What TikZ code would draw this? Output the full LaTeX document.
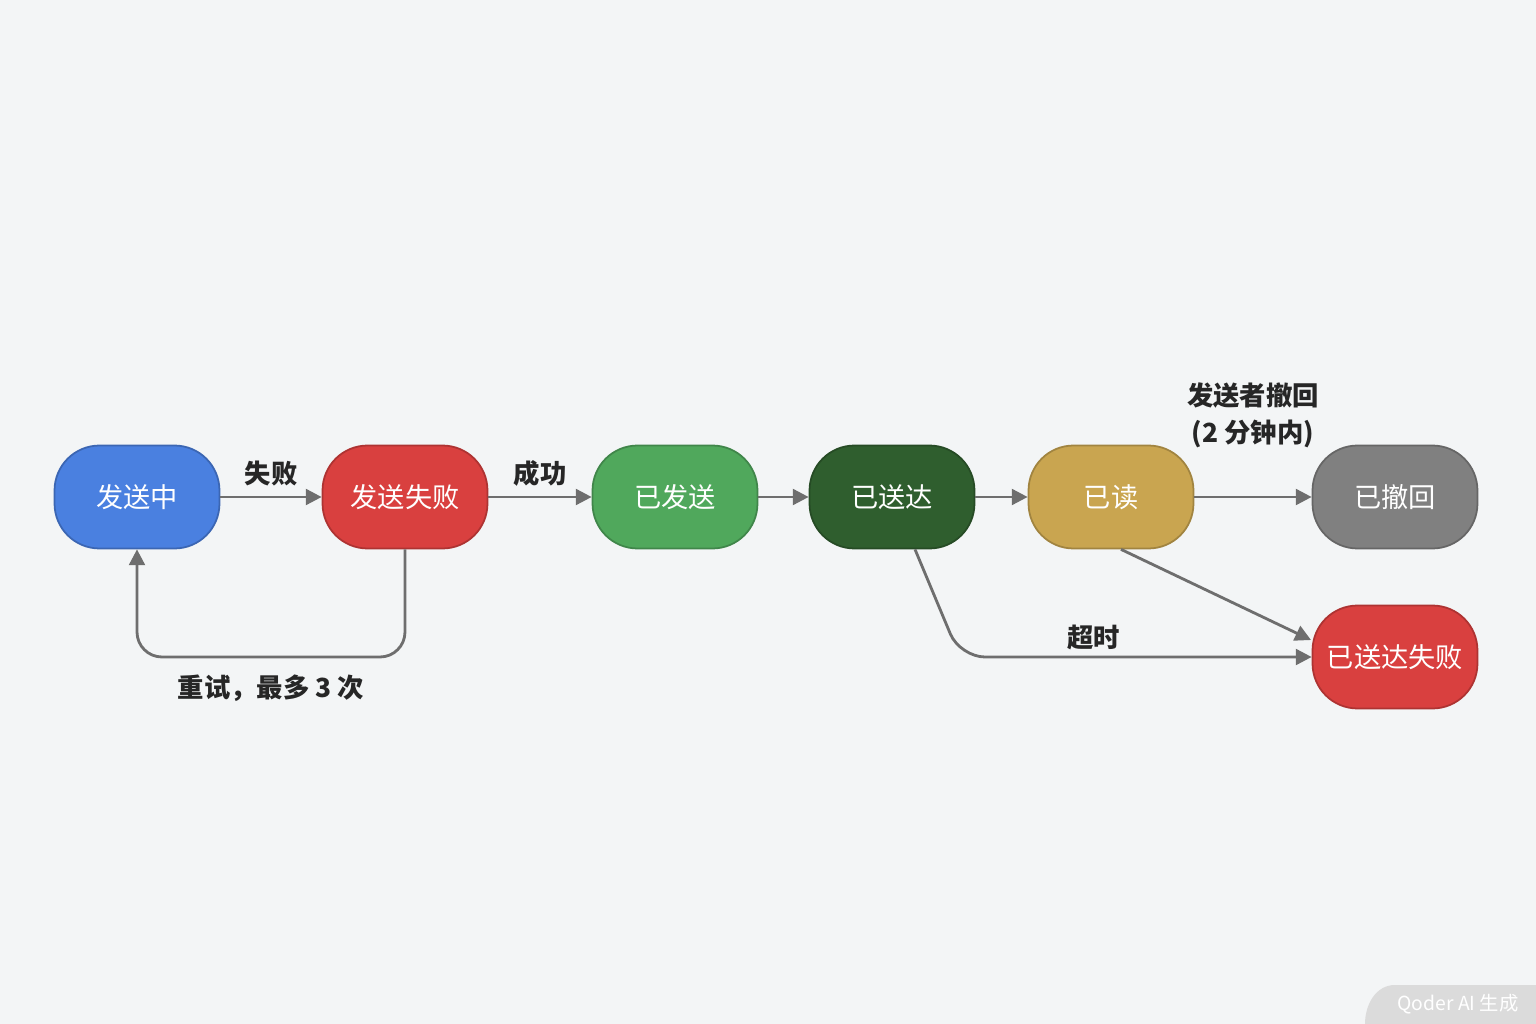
\documentclass[tikz,border=0pt]{standalone}
\usepackage{fontspec}
\setmainfont{Noto Sans CJK SC}
\usetikzlibrary{arrows.meta}
\definecolor{bg}{HTML}{F3F5F6}
\definecolor{cblue}{HTML}{4A80E0}
\definecolor{cred}{HTML}{D9403F}
\definecolor{cgreen}{HTML}{50A85C}
\definecolor{cdark}{HTML}{2F5E2E}
\definecolor{cgold}{HTML}{C9A550}
\definecolor{cgray}{HTML}{808080}
\definecolor{cline}{HTML}{6E6E6E}
\tikzset{
	state/.style={rounded corners=0.9cm, minimum width=3.3cm, minimum height=2.06cm,
		text=white, font=\fontsize{15.5}{18}\selectfont, line width=1pt},
	flow/.style={draw=cline, line width=1.6pt, -{Triangle[length=9pt,width=9pt]}, rounded corners=0.5cm},
	lbl/.style={font=\fontsize{15}{21}\selectfont\bfseries, text=black!85, align=center}
}
\begin{document}
\begin{tikzpicture}[x=0.02cm, y=-0.02cm]
	% Hintergrund
	\fill[bg] (0,0) rectangle (1536,1024);
	\useasboundingbox (0,0) rectangle (1536,1024);
	% Zustaende
	\node[state, fill=cblue, draw=cblue!80!black] (sending) at (137,497) {发送中};
	\node[state, fill=cred, draw=cred!80!black] (failed) at (405,497) {发送失败};
	\node[state, fill=cgreen, draw=cgreen!80!black] (sent) at (675,497) {已发送};
	\node[state, fill=cdark, draw=cdark!80!black] (delivered) at (892,497) {已送达};
	\node[state, fill=cgold, draw=cgold!80!black] (read) at (1111,497) {已读};
	\node[state, fill=cgray, draw=cgray!80!black] (recalled) at (1395,497) {已撤回};
	\node[state, fill=cred, draw=cred!80!black] (dfailed) at (1395,657) {已送达失败};
	\coordinate (din) at (1311,640);
	% Uebergaenge
	\draw[flow] (sending) -- node[lbl, above=2pt] {失败} (failed);
	\draw[flow] (failed) -- node[lbl, above=2pt] {成功} (sent);
	\draw[flow] (sent) -- (delivered);
	\draw[flow] (delivered) -- (read);
	\draw[flow] (read) -- node[lbl, above=24pt] {发送者撤回\\(2 分钟内)} (recalled);
	\draw[flow] (read.south) ++(10,0) -- (din);
	\draw[flow] (delivered.south) ++(23,0) -- (960,657) -- node[lbl, above, pos=0.38] {超时} (dfailed.west);
	\draw[flow] (failed.south) -- (405,657) -- node[lbl, below=6pt] {重试，最多 3 次} (137,657) -- (sending.south);
	% Wasserzeichen
	\fill[white!72!gray] (1365,1024) to[out=90,in=180] (1395,985) -- (1536,985) -- (1536,1024) -- cycle;
	\node[font=\fontsize{11}{13}\selectfont, text=white] (mark) at (1458,1004) {Qoder AI 生成};
\end{tikzpicture}
\end{document}
